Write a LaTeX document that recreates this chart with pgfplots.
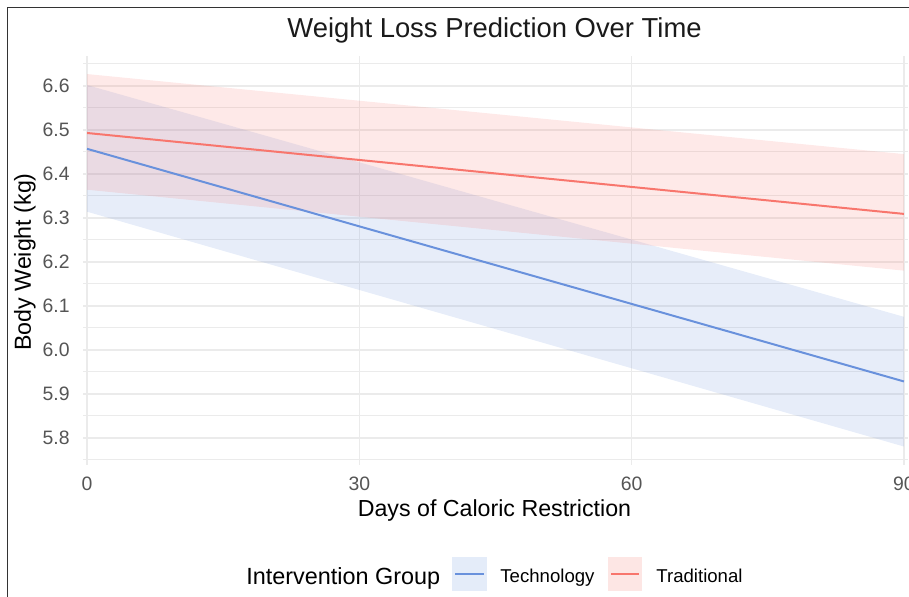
\documentclass[border=0pt]{standalone}
\usepackage{fontspec}
\setmainfont{Liberation Sans}
\usepackage{pgfplots}
\usepackage{pgfplotstable}
\pgfplotsset{compat=1.18}
\definecolor{techblue}{RGB}{105,145,220}
\definecolor{tradred}{HTML}{F8766D}
\definecolor{gridc}{HTML}{EBEBEB}
\definecolor{tickc}{HTML}{555555}
\definecolor{framec}{HTML}{333333}
\definecolor{techfill}{RGB}{228,236,249}
\definecolor{tradfill}{RGB}{253,230,228}

\pgfplotstableread{
x lo mid hi
0 6.314 6.457 6.602
90 5.780 5.928 6.075
}\techtab
\pgfplotstableread{
x lo mid hi
0 6.364 6.493 6.627
90 6.180 6.309 6.445
}\tradtab

\begin{document}
\begin{tikzpicture}
\begin{axis}[
  at={(41.5pt,-232.5pt)}, anchor=south west,
  scale only axis, width=412.5pt, height=204.7pt,
  xmin=-0.45, xmax=90.45, ymin=5.738, ymax=6.669,
  axis line style={draw=none},
  tick style={draw=none},
  major tick length=0pt, minor tick length=0pt,
  xtick={0,30,60,90},
  ytick={5.8,5.9,6.0,6.1,6.2,6.3,6.4,6.5,6.6},
  minor ytick={5.75,5.85,5.95,6.05,6.15,6.25,6.35,6.45,6.55,6.65},
  grid=both,
  major grid style={draw=gridc, line width=0.8pt},
  minor grid style={draw=gridc, line width=0.45pt},
  /pgf/number format/assume math mode=true,
  xticklabel style={anchor=base, yshift=-12.5pt, inner sep=0pt, font=\fontsize{9.7}{11}\selectfont, text=tickc},
  yticklabel style={anchor=east, xshift=-6.5pt, inner sep=0pt, font=\fontsize{9.7}{11}\selectfont, text=tickc},
  yticklabel={\pgfmathprintnumber[fixed,fixed zerofill,precision=1,assume math mode=true]{\tick}},
]
% ribbons
\addplot[draw=none, fill=techblue, fill opacity=0.16] coordinates {(0,6.314) (90,5.780) (90,6.075) (0,6.602)} -- cycle;
\addplot[draw=none, fill=tradred, fill opacity=0.16] coordinates {(0,6.364) (90,6.180) (90,6.445) (0,6.627)} -- cycle;
% lines
\addplot[techblue, line width=1pt] table[x=x, y=mid] {\techtab};
\addplot[tradred, line width=1pt] table[x=x, y=mid] {\tradtab};
\end{axis}

% title and axis labels
\node[anchor=base, font=\fontsize{13.7}{16}\selectfont, text={rgb,255:red,26;green,26;blue,26}] at (247.25pt,-18.5pt) {Weight Loss Prediction Over Time};
\node[anchor=base, font=\fontsize{11.6}{14}\selectfont] at (247.25pt,-258pt) {Days of Caloric Restriction};
\node[rotate=90, anchor=center, font=\fontsize{11.6}{14}\selectfont] at (12.5pt,-131pt) {Body Weight (kg)};

% legend
\node[anchor=base west, inner sep=0pt, font=\fontsize{11.7}{14}\selectfont] at (123pt,-292pt) {Intervention Group};
\fill[techfill] (226pt,-278.5pt) rectangle (243.5pt,-295.5pt);
\draw[techblue, line width=1.1pt] (227.5pt,-287pt) -- (242pt,-287pt);
\node[anchor=base west, inner sep=0pt, font=\fontsize{9.3}{11}\selectfont] at (250pt,-291pt) {Technology};
\fill[tradfill] (304pt,-278.5pt) rectangle (321pt,-295.5pt);
\draw[tradred, line width=1.1pt] (305.5pt,-287pt) -- (319.5pt,-287pt);
\node[anchor=base west, inner sep=0pt, font=\fontsize{9.3}{11}\selectfont] at (328pt,-291pt) {Traditional};

% outer frame (partially visible)
\draw[framec, line width=0.8pt] (3.75pt,-400pt) -- (3.75pt,-3.75pt) -- (600pt,-3.75pt);

\pgfresetboundingbox
\path[use as bounding box] (0pt,0pt) rectangle (454.5pt,-298pt);
\end{tikzpicture}
\end{document}
